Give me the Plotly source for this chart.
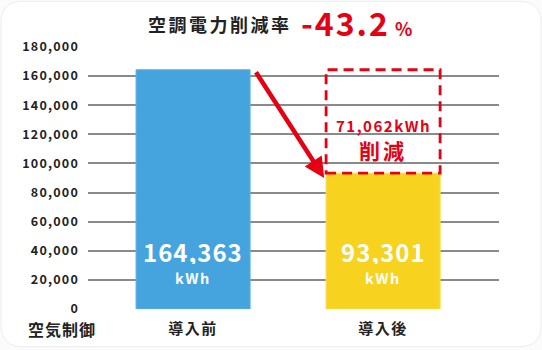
import plotly.graph_objects as go

categories = ["導入前", "導入後"]
values = [164363, 93301]
bar_colors = ["#45a3de", "#f7d31f"]
reduction = values[0] - values[1]
rate_text = "-43.2"
title_text = "空調電力削減率"
corner_label = "空気制御"
unit = "kWh"
y_ticks = list(range(0, 180001, 20000))

W, H = 542, 350
L, R, T, B = 88, 43, 47, 39
FONT = "Noto Sans CJK JP"
RED = "#e50012"
DARK = "#222222"


def px(x):
    return (x - L) / (W - L - R)


def py(y):
    return (H - B - y) / (H - T - B)


def yv(y):
    return (H - B - y) / (H - T - B) * 180000


def sp(text, ls):
    return f"<span style='letter-spacing:{ls}px'>{text}</span>"


fig = go.Figure()
fig.add_trace(go.Bar(
    x=[0, 1], y=values, width=0.6,
    marker=dict(color=bar_colors, line=dict(color=["#5ab2e6", "#f9dc4a"], width=1)),
    hoverinfo="skip",
))

# card background
x0, y0, x1, y1, r = 1, 1, 541, 349, 22
path = (f"M {px(x0 + r)},{py(y0)} L {px(x1 - r)},{py(y0)} Q {px(x1)},{py(y0)} {px(x1)},{py(y0 + r)} "
        f"L {px(x1)},{py(y1 - r)} Q {px(x1)},{py(y1)} {px(x1 - r)},{py(y1)} "
        f"L {px(x0 + r)},{py(y1)} Q {px(x0)},{py(y1)} {px(x0)},{py(y1 - r)} "
        f"L {px(x0)},{py(y0 + r)} Q {px(x0)},{py(y0)} {px(x0 + r)},{py(y0)} Z")
shapes = [
    dict(type="path", path=path, xref="paper", yref="paper", fillcolor="white",
         line=dict(color="#eceef0", width=1), layer="below"),
    dict(type="rect", xref="x", yref="y", x0=0.7, x1=1.3, y0=values[1], y1=values[0],
         line=dict(color=RED, width=2.8, dash="10px,6px"), fillcolor="rgba(0,0,0,0)", layer="above"),
]

annotations = [
    dict(text=sp(title_text, 2.5), x=px(220), y=py(24), xref="paper", yref="paper", showarrow=False,
         font=dict(family=FONT, size=18, color=DARK, weight="bold"), xanchor="center", yanchor="middle"),
    dict(text=sp(rate_text, 2), x=px(299), y=py(22), xref="paper", yref="paper", showarrow=False,
         font=dict(family=FONT, size=32, color=RED, weight="bold"), xanchor="left", yanchor="middle"),
    dict(text="%", x=px(393), y=py(28), xref="paper", yref="paper", showarrow=False,
         font=dict(family=FONT, size=18, color=RED, weight="bold"), xanchor="left", yanchor="middle"),
    dict(text=sp(corner_label, 1), x=px(62), y=py(331), xref="paper", yref="paper", showarrow=False,
         font=dict(family=FONT, size=16, color=DARK, weight="bold"), xanchor="center", yanchor="middle"),
    dict(text=sp(f"{reduction:,}{unit}", 1.5), x=1, y=yv(126), xref="x", yref="y", showarrow=False,
         font=dict(family=FONT, size=15, color=RED, weight="bold"), xanchor="center", yanchor="middle"),
    dict(text=sp("削減", 3), x=1, y=yv(151), xref="x", yref="y", showarrow=False,
         font=dict(family=FONT, size=21, color=RED, weight="bold"), xanchor="center", yanchor="middle"),
    dict(x=0.69, y=yv(179), ax=0.326, ay=yv(71),
         xref="x", yref="y", axref="x", ayref="y", text="", showarrow=True,
         arrowhead=2, arrowsize=0.9, arrowwidth=4.5, arrowcolor=RED),
]
for i, v in enumerate(values):
    annotations.append(dict(text=sp(f"{v:,}", 1), x=i, y=yv(253), xref="x", yref="y", height=26,
                            showarrow=False, font=dict(family=FONT, size=24, color="white", weight="bold"),
                            xanchor="center", yanchor="middle"))
    annotations.append(dict(text=sp(unit, 1.5), x=i, y=yv(278.5), xref="x", yref="y", height=18,
                            showarrow=False, font=dict(family=FONT, size=14.5, color="white", weight="bold"),
                            xanchor="center", yanchor="middle"))

fig.update_layout(
    width=W, height=H,
    margin=dict(l=L, r=R, t=T, b=B),
    paper_bgcolor="#fbfbfc", plot_bgcolor="rgba(0,0,0,0)",
    showlegend=False, bargap=0.4,
    shapes=shapes, annotations=annotations,
    xaxis=dict(range=[-0.553, 1.61], tickmode="array", tickvals=[0, 1],
               ticktext=[sp(c, 1.5) for c in categories],
               showgrid=False, zeroline=False, showline=False, ticks="",
               tickfont=dict(family=FONT, size=15, color=DARK, weight="bold"), ticklabelstandoff=9),
    yaxis=dict(range=[0, 180000], tickmode="array", tickvals=y_ticks,
               ticktext=[sp(f"{t:,}", 1.2) for t in y_ticks], showgrid=True, gridcolor="#8a8a8a", gridwidth=1.5,
               zeroline=False, showline=False, ticks="", ticklabelstandoff=8,
               tickfont=dict(family=FONT, size=12.5, color=DARK, weight="bold")),
)

fig.write_html("out.html")
